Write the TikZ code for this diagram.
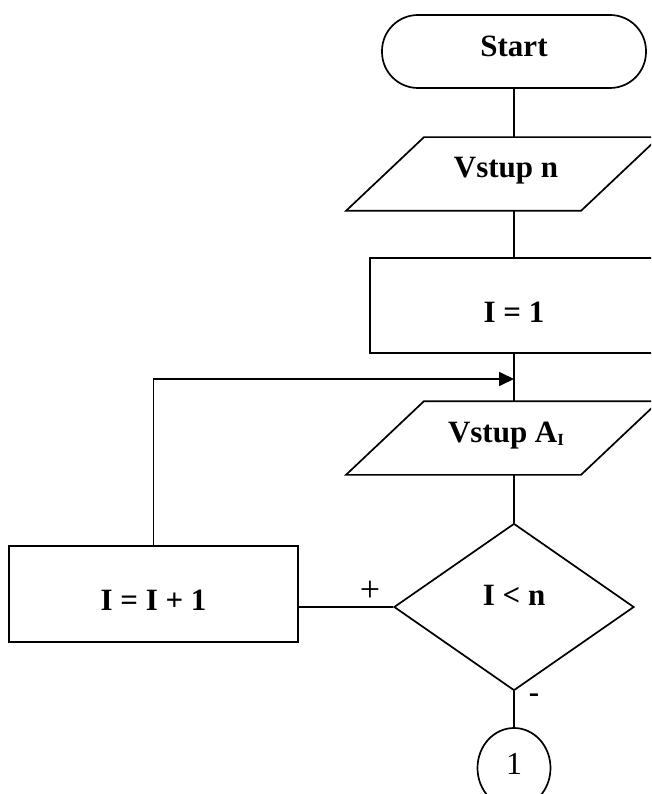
\documentclass[tikz,border=0pt]{standalone}
\usepackage{fontspec}
\setmainfont{Liberation Serif}
\usetikzlibrary{shapes.geometric,arrows.meta}
\begin{document}
\begin{tikzpicture}[x=1pt,y=-1pt,
  line width=1.7pt,
  every node/.style={inner sep=0pt,font=\fontsize{31}{36}\selectfont\bfseries},
  block/.style={draw,rectangle},
  term/.style={draw,rectangle,rounded corners=36pt},
  iobox/.style={rectangle,minimum width=150pt,minimum height=72pt},
  test/.style={draw,diamond,minimum width=240pt,minimum height=167pt},
  conn/.style={draw,ellipse,minimum width=73pt,minimum height=80pt,font=\fontsize{32}{36}\selectfont},
  tag/.style={font=\fontsize{36}{40}\selectfont}
]
\useasboundingbox (0,0) rectangle (651,794);
\clip (0,0) rectangle (651,794);

% nodes
\node[term,minimum width=264pt,minimum height=73pt,text height=20.5pt,text depth=10pt]
  (start) at (514,51.5) {Start};
\node[iobox,text height=20.5pt,text depth=14pt] (vn) at (506,174) {Vstup n};
\node[block,minimum width=288pt,minimum height=95pt,text height=33.5pt,text depth=0pt]
  (i1) at (514,305.5) {I = 1};
\node[iobox,text height=20.5pt,text depth=11pt] (va) at (506,438)
  {Vstup A{\fontsize{17}{17}\selectfont\raisebox{-3pt}{I}}};
\node[test,text height=20.5pt,text depth=24pt] (dec) at (514,607) {I < n};
\node[block,minimum width=289pt,minimum height=96pt,text height=32.5pt,text depth=0pt]
  (inc) at (153.5,594) {I = I + 1};
\node[conn,text height=20.5pt,text depth=8pt] (c1) at (514,768) {1};

% input/output parallelograms
\foreach \n in {vn,va}
  \draw ([xshift=-160pt]\n.south) -- ([xshift=75pt]\n.south)
     -- ([xshift=153pt]\n.north) -- ([xshift=-82pt]\n.north) -- cycle;

% connectors
\coordinate (join) at (514,379);
\draw (start.south) -- (start.south |- vn.north);
\draw (i1.north |- vn.south) -- (i1.north);
\draw (i1.south) -- (i1.south |- va.north);
\draw[-{Triangle[length=15pt,width=14pt]}] (inc.north) |- (join);
\draw (dec.north |- va.south) -- (dec.north);
\draw (dec.west) -- (dec.west -| inc.east);
\draw (dec.south) -- (c1.north);

% branch labels
\node[tag] (plus) at (370,591) {+};
\node (minus) at (534,698) {-};
\end{tikzpicture}
\end{document}
